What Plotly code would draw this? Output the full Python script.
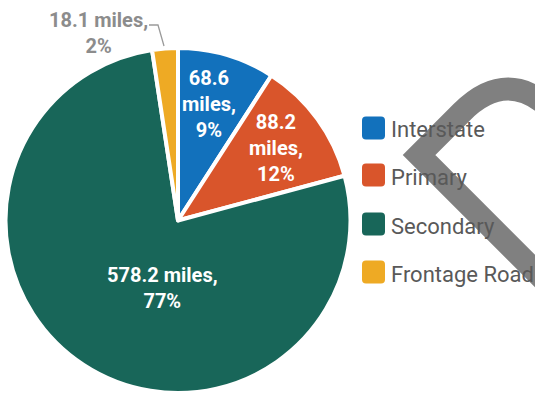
import plotly.graph_objects as go

# Road mileage by system
categories = ["Interstate", "Primary", "Secondary", "Frontage Road"]
miles = [68.6, 88.2, 578.2, 18.1]
colors = ["#1271BC", "#D9552B", "#186659", "#EEAA24"]

# how each slice label breaks across lines
label_formats = [
    "{m}<br>miles,<br>{p}%",
    "{m}<br>miles,<br>{p}%",
    "{m} miles,<br>{p}%",
    "{m} miles,<br>{p}%",
]

W, H = 535, 393


def px(x):
    return x / W


def py(y):
    return 1 - y / H


fig = go.Figure()
fig.add_trace(go.Pie(
    labels=categories,
    values=miles,
    sort=False,
    direction="clockwise",
    rotation=0,
    marker=dict(colors=colors, line=dict(color="white", width=4)),
    textinfo="none",
    hoverinfo="label+value+percent",
    showlegend=False,
    domain=dict(x=[px(5), px(351)], y=[0, py(48)]),
))

total = sum(miles)
labels = [
    fmt.format(m=f"{v:.1f}", p=round(100 * v / total))
    for fmt, v in zip(label_formats, miles)
]

# slice label anchors (pixel positions) and colours
label_pos = [(209, 104), (276, 148), (162, 288), (98, 33)]
label_col = ["white", "white", "white", "#8C8C8C"]

annotations = []
for text, (x, y), c in zip(labels, label_pos, label_col):
    annotations.append(dict(
        text=text, x=px(x), y=py(y), xref="paper", yref="paper",
        xanchor="center", yanchor="middle", showarrow=False, align="center",
        font=dict(family="Roboto", size=20, color=c, weight="bold"),
    ))

# hand-drawn legend: rounded swatches with labels
shapes = []
legend_y = [128, 175, 224, 272]
sw = 23
r = 4
for name, c, yc in zip(categories, colors, legend_y):
    x0, x1 = 362, 362 + sw
    y0, y1 = yc - sw / 2, yc + sw / 2
    path = (
        f"M {px(x0 + r)},{py(y0)} L {px(x1 - r)},{py(y0)} "
        f"Q {px(x1)},{py(y0)} {px(x1)},{py(y0 + r)} "
        f"L {px(x1)},{py(y1 - r)} Q {px(x1)},{py(y1)} {px(x1 - r)},{py(y1)} "
        f"L {px(x0 + r)},{py(y1)} Q {px(x0)},{py(y1)} {px(x0)},{py(y1 - r)} "
        f"L {px(x0)},{py(y0 + r)} Q {px(x0)},{py(y0)} {px(x0 + r)},{py(y0)} Z"
    )
    shapes.append(dict(type="path", path=path, xref="paper", yref="paper",
                       fillcolor=c, line=dict(width=0), layer="above"))
    annotations.append(dict(
        text=name, x=px(389), y=py(yc + 2), xref="paper", yref="paper",
        xanchor="left", yanchor="middle", showarrow=False,
        font=dict(family="Roboto", size=22, color="#595959"),
    ))

# large grey chevron mark behind the legend
chev = (
    f"M {px(600)},{py(336)} L {px(419)},{py(155)} L {px(462)},{py(112)} "
    f"Q {px(508)},{py(66)} {px(554)},{py(112)} L {px(600)},{py(158)}"
)
shapes.insert(0, dict(type="path", path=chev, xref="paper", yref="paper",
                      line=dict(color="#808080", width=23), layer="below"))

# leader line for the small slice label
leader = f"M {px(149)},{py(25)} L {px(158)},{py(25)} L {px(164)},{py(46)}"
shapes.append(dict(type="path", path=leader, xref="paper", yref="paper",
                   line=dict(color="#9A9A9A", width=1.3), layer="above"))

fig.update_layout(
    width=W, height=H, autosize=False,
    margin=dict(l=0, r=0, t=0, b=0),
    paper_bgcolor="white", plot_bgcolor="white",
    shapes=shapes, annotations=annotations,
    showlegend=False,
)

fig.write_html("out.html")
